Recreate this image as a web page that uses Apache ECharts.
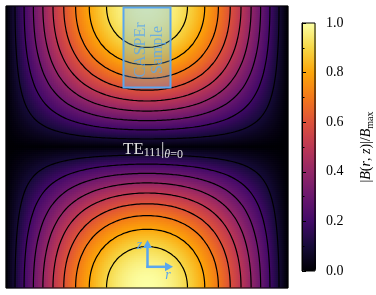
<!DOCTYPE html>
<html><head><meta charset="utf-8">
<script src="https://cdn.jsdelivr.net/npm/echarts@6/dist/echarts.min.js"></script>
<style>html,body{margin:0;padding:0;background:#fff}#c{width:376px;height:295px}</style>
</head><body><div id="c"></div>
<script>
// |B| profile across the cavity, left wall -> axis (2px steps)
const radialHalf = [
0.011,0.033,0.056,0.078,0.100,0.122,0.144,0.166,0.188,0.210,
0.232,0.253,0.275,0.296,0.318,0.339,0.359,0.380,0.401,0.421,
0.441,0.461,0.481,0.500,0.519,0.538,0.557,0.575,0.593,0.611,
0.629,0.646,0.663,0.679,0.695,0.711,0.727,0.742,0.756,0.771,
0.785,0.798,0.812,0.825,0.837,0.849,0.860,0.872,0.882,0.893,
0.902,0.912,0.921,0.929,0.937,0.945,0.952,0.958,0.965,0.970,
0.975,0.980,0.984,0.988,0.991,0.994,0.996,0.998,0.999,1.000,1.000];
// |B| profile along z, end cap -> mid-plane (2px steps)
const axialHalf = [
1.000,1.000,0.999,0.998,0.996,0.994,0.991,0.988,0.984,0.980,
0.975,0.970,0.965,0.958,0.952,0.945,0.937,0.929,0.921,0.912,
0.902,0.893,0.882,0.872,0.860,0.849,0.837,0.825,0.812,0.798,
0.785,0.771,0.756,0.742,0.727,0.711,0.695,0.679,0.663,0.646,
0.629,0.611,0.593,0.575,0.557,0.538,0.519,0.500,0.481,0.461,
0.441,0.421,0.401,0.380,0.359,0.339,0.318,0.296,0.275,0.253,
0.232,0.210,0.188,0.166,0.144,0.122,0.100,0.078,0.056,0.033,0.011];
const contourLevels = [0.1,0.2,0.3,0.4,0.5,0.6,0.7,0.8,0.9];
const colorbarTicks = ['0.0','0.2','0.4','0.6','0.8','1.0'];
const inferno = ['#000004','#160b39','#420a68','#6a176e','#932667','#bc3754','#dd513a','#f37819','#fca50a','#f6d746','#fcffa4'];

const radial = radialHalf.concat(radialHalf.slice(0,-1).reverse());
const axial = axialHalf.concat(axialHalf.slice(0,-1).reverse());
const NX = radial.length, NY = axial.length;
const field = [], heatData = [];
for (let j=0;j<NY;j++){ const row=[]; for(let i=0;i<NX;i++){ const v=radial[i]*axial[j]; row.push(v); heatData.push([i,j,v]); } field.push(row); }
const xCats = radial.map((_,i)=>i), yCats = axial.map((_,j)=>j);

function contourSegments(L){
  const segs=[];
  const up = v => v>=L;
  for (let j=0;j<NY-1;j++) for (let i=0;i<NX-1;i++){
    const a=field[j][i], b=field[j][i+1], c=field[j+1][i+1], d=field[j+1][i];
    const pts=[]; const x0=i+0.5, y0=j+0.5;
    if (up(a)!==up(b)) pts.push([x0+(L-a)/(b-a), y0]);
    if (up(b)!==up(c)) pts.push([x0+1, y0+(L-b)/(c-b)]);
    if (up(d)!==up(c)) pts.push([x0+(L-d)/(c-d), y0+1]);
    if (up(a)!==up(d)) pts.push([x0, y0+(L-a)/(d-a)]);
    if (pts.length===2) segs.push(pts);
    else if (pts.length===4){ segs.push([pts[0],pts[1]]); segs.push([pts[2],pts[3]]); }
  }
  return segs;
}

const SERIF = '"Liberation Serif", "DejaVu Serif", serif';
const BLUE = '#5aa6ee';
const chart = echarts.init(document.getElementById('c'), null, {renderer:'canvas'});
chart.setOption({
  animation:false,
  backgroundColor:'#fff',
  grid:[
    {left:6, top:6, width:282, height:282},
    {left:6, top:6, width:282, height:282, show:true, borderColor:'#000', borderWidth:1, backgroundColor:'transparent', z:5},
    {left:302, top:23, width:14, height:248, show:true, borderColor:'#000', borderWidth:1, backgroundColor:'transparent', z:10}
  ],
  xAxis:[
    {type:'category', gridIndex:0, data:xCats, show:false},
    {type:'value', gridIndex:1, min:0, max:NX, show:false},
    {type:'value', gridIndex:2, min:0, max:1, show:false}
  ],
  yAxis:[
    {type:'category', gridIndex:0, data:yCats, inverse:true, show:false},
    {type:'value', gridIndex:1, min:0, max:NY, inverse:true, show:false},
    {type:'value', gridIndex:2, min:0, max:1, interval:0.2, position:'right', z:10,
     axisLine:{show:true, lineStyle:{color:'#000', width:1}},
     axisTick:{show:true, inside:false, length:4, lineStyle:{color:'#000'}},
     minorTick:{show:true, splitNumber:2, length:2.5, lineStyle:{color:'#000'}},
     splitLine:{show:false},
     axisLabel:{margin:11, color:'#000', fontFamily:SERIF, fontSize:14, formatter:(v)=>colorbarTicks[Math.round(v*5)]},
     name:'{n||}{it|B}{n|(}{it|r}{n|, }{it|z}{n|)|/}{it|B}{s|max}',
     nameLocation:'middle', nameRotate:90, nameGap:43,
     nameTextStyle:{color:'#000', fontFamily:SERIF, fontSize:14,
       rich:{n:{fontFamily:SERIF,fontSize:14,color:'#000'}, it:{fontFamily:SERIF,fontSize:14,fontStyle:'italic',color:'#000'}, s:{fontFamily:SERIF,fontSize:10,color:'#000',padding:[7,0,0,0]}}}
    }
  ],
  visualMap:{type:'continuous', min:0, max:1, seriesIndex:0, dimension:2, inRange:{color:inferno},
    left:302, top:23, itemWidth:14, itemHeight:248, padding:0, calculable:false, orient:'vertical', hoverLink:false},
  series:[
    {type:'heatmap', xAxisIndex:0, yAxisIndex:0, data:heatData, progressive:0, progressiveThreshold:1e9, itemStyle:{borderWidth:0}, emphasis:{disabled:true}, silent:true},
    {type:'custom', coordinateSystem:'cartesian2d', xAxisIndex:1, yAxisIndex:1, silent:true, z:3,
     data:contourLevels.map(l=>[0,0,l]), encode:{x:0,y:1},
     renderItem:function(params, api){
       const L = contourLevels[params.dataIndex];
       const segs = contourSegments(L);
       let d='';
       for (const s of segs){ const p=api.coord(s[0]), q=api.coord(s[1]); d+='M'+p[0].toFixed(2)+' '+p[1].toFixed(2)+'L'+q[0].toFixed(2)+' '+q[1].toFixed(2); }
       return {type:'path', shape:{pathData:d}, style:{stroke:'#000', fill:null, lineWidth:1.2, lineCap:'round'}};
     }}
  ],
  graphic:[
    {type:'rect', z:100, shape:{x:123.5,y:7.5,width:47,height:80}, style:{fill:'rgba(95,165,240,0.32)', stroke:BLUE, lineWidth:2}},
    {type:'text', z:101, x:149, y:50, rotation:Math.PI/2, style:{text:'CASPEr\nSample', fill:'rgba(90,166,238,0.8)', font:'16px '+SERIF, align:'center', verticalAlign:'middle', lineHeight:17}},
    {type:'text', z:101, x:123, y:150, style:{text:'{a|TE}{s|111}{a||}{t|θ}{u|=0}', fill:'#e0e0e0', align:'left', verticalAlign:'middle',
      rich:{a:{fontSize:17,fontFamily:SERIF,fill:'#e0e0e0'}, s:{fontSize:12,fontFamily:SERIF,fill:'#e0e0e0',padding:[6,0,0,0]}, t:{fontSize:12,fontFamily:SERIF,fontStyle:'italic',fill:'#e0e0e0',padding:[10,0,0,0]}, u:{fontSize:12,fontFamily:SERIF,fill:'#e0e0e0',padding:[10,0,0,0]}}}},
    {type:'line', z:101, shape:{x1:147.5,y1:268,x2:147.5,y2:247}, style:{stroke:BLUE, lineWidth:2.5}},
    {type:'polygon', z:101, shape:{points:[[143,248],[152,248],[147.5,240]]}, style:{fill:BLUE}},
    {type:'line', z:101, shape:{x1:146.3,y1:266.8,x2:166,y2:266.8}, style:{stroke:BLUE, lineWidth:2.5}},
    {type:'polygon', z:101, shape:{points:[[165,262.3],[165,271.3],[173,266.8]]}, style:{fill:BLUE}},
    {type:'text', z:101, x:139.5, y:245, style:{text:'z', fill:BLUE, font:'italic 14px '+SERIF, align:'center', verticalAlign:'middle'}},
    {type:'text', z:101, x:168, y:275, style:{text:'r', fill:BLUE, font:'italic 14px '+SERIF, align:'center', verticalAlign:'middle'}}
  ]
});
</script></body></html>
